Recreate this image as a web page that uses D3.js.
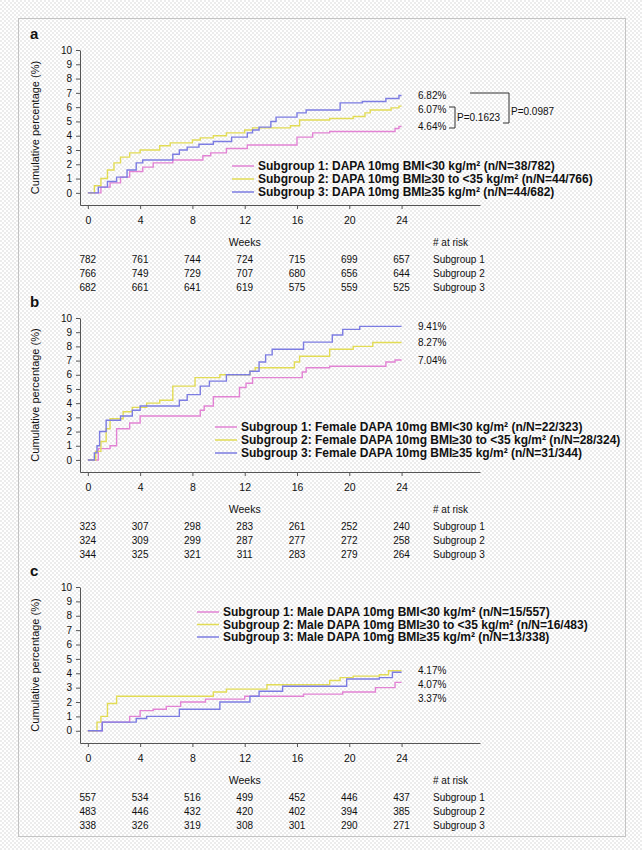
<!DOCTYPE html>
<html>
<head>
<meta charset="utf-8">
<script src="https://cdn.jsdelivr.net/npm/d3@7"></script>
<style>
  body { margin: 0; background: #fff; }
  svg { display: block; }
  text { font-family: "Liberation Sans", Arial, sans-serif; fill: #111; }
</style>
</head>
<body>
<svg id="chart" width="642" height="850"></svg>
<script>
// shared ticks / names
const weekTicks = [0, 4, 8, 12, 16, 20, 24]
const pctTicks = [0, 1, 2, 3, 4, 5, 6, 7, 8, 9, 10]
const groupNames = ["Subgroup 1", "Subgroup 2", "Subgroup 3"]
const groupColors = ["#e283d4", "#e2dc55", "#7c7ce2"]

// panel a: all patients, [week, cumulative %]
const aSub1 = [[0,0],[1.0,0.4],[1.7,0.7],[2.5,1.1],[3.2,1.5],[4.2,1.8],[5,2.1],[6.5,2.3],[8.8,2.6],[9.4,2.8],[10.6,3.1],[12.2,3.35],[16,3.9],[17.2,4.2],[18.5,4.3],[23.5,4.5],[23.8,4.64],[24,4.64]]
const aSub2 = [[0,0],[0.5,0.5],[1.0,1.0],[1.5,1.6],[2.0,2.1],[2.5,2.5],[3.2,2.8],[4.0,3.0],[5.5,3.3],[6.3,3.5],[8.0,3.7],[8.6,3.85],[9.6,4.0],[10.6,4.2],[12.0,4.4],[12.6,4.55],[15.5,4.7],[16.2,5.1],[18.5,5.2],[20.3,5.35],[21.2,5.6],[21.6,5.8],[23.2,5.95],[23.8,6.07],[24,6.07]]
const aSub3 = [[0,0],[0.8,0.4],[1.5,0.8],[2.2,1.1],[3.0,1.6],[3.7,2.1],[4.2,2.3],[6.5,2.7],[7.0,3.0],[7.6,3.2],[8.5,3.4],[9.6,3.6],[11,3.9],[12.2,4.2],[12.6,4.4],[13.1,4.6],[14.0,5.0],[14.4,5.3],[16,5.6],[16.7,5.8],[19.3,6.3],[21,6.4],[22.8,6.6],[23.8,6.82],[24,6.82]]
const aEnd = [4.64, 6.07, 6.82]
const aRisk = [[782, 761, 744, 724, 715, 699, 657], [766, 749, 729, 707, 680, 656, 644], [682, 661, 641, 619, 575, 559, 525]]
const aLegend = [
  "Subgroup 1: DAPA 10mg BMI<30 kg/m\u00b2 (n/N=38/782)",
  "Subgroup 2: DAPA 10mg BMI\u226530 to <35 kg/m\u00b2 (n/N=44/766)",
  "Subgroup 3: DAPA 10mg BMI\u226535 kg/m\u00b2 (n/N=44/682)"
]
const aPvalues = ["P=0.1623", "P=0.0987"]

// panel b: female
const bSub1 = [[0,0],[0.8,0.8],[1.7,1.0],[2.2,2.2],[3.2,2.6],[4,3.1],[8.6,3.5],[8.9,3.8],[9.6,4.45],[11.6,5.1],[12.1,5.4],[12.6,5.8],[16.4,6.2],[16.7,6.5],[18.5,6.6],[22.8,6.9],[23.5,7.04],[24,7.04]]
const bSub2 = [[0,0],[0.6,0.6],[1.0,1.3],[1.4,2.2],[1.7,2.9],[2.7,3.4],[3.4,3.7],[4.5,4.0],[5.5,4.2],[6.5,5.2],[8.2,5.8],[10.1,6.0],[12.4,6.25],[12.8,6.5],[15.8,6.9],[16.2,7.3],[18.5,7.8],[20.3,8.0],[21.8,8.27],[24,8.27]]
const bSub3 = [[0,0],[0.5,0.5],[0.7,1.0],[0.9,2.0],[1.4,2.8],[2.5,3.1],[3.4,3.5],[4,3.8],[7,4.2],[7.6,4.6],[8.6,5.2],[9.3,5.55],[10.6,6.0],[12.4,6.25],[13.1,6.9],[13.6,7.4],[14.1,7.8],[16.5,8.3],[18.7,8.8],[19.5,9.2],[20.8,9.41],[24,9.41]]
const bEnd = [7.04, 8.27, 9.41]
const bRisk = [[323, 307, 298, 283, 261, 252, 240], [324, 309, 299, 287, 277, 272, 258], [344, 325, 321, 311, 283, 279, 264]]
const bLegend = [
  "Subgroup 1: Female DAPA 10mg BMI<30 kg/m\u00b2 (n/N=22/323)",
  "Subgroup 2: Female DAPA 10mg BMI\u226530 to <35 kg/m\u00b2 (n/N=28/324)",
  "Subgroup 3: Female DAPA 10mg BMI\u226535 kg/m\u00b2 (n/N=31/344)"
]

// panel c: male
const cSub1 = [[0,0],[1.1,0.6],[3.2,1.0],[4,1.4],[5,1.5],[6,1.7],[7.1,2.0],[9,2.2],[12,2.4],[16.5,2.55],[19.5,2.7],[22,3.0],[23.5,3.37],[24,3.37]]
const cSub2 = [[0,0],[0.7,0.6],[1.0,1.0],[1.5,1.9],[2.2,2.4],[9.6,2.7],[10.6,2.9],[13.7,3.2],[18.5,3.5],[19.3,3.7],[20.3,3.8],[22.3,3.9],[23,4.17],[24,4.17]]
const cSub3 = [[0,0],[1.1,0.6],[3.7,0.85],[4.5,1.0],[7,1.5],[10.1,2.0],[12.4,2.4],[13.1,2.75],[14.9,3.1],[19.8,3.6],[22.3,3.7],[23.3,4.07],[24,4.07]]
const cEnd = [3.37, 4.17, 4.07]
const cRisk = [[557, 534, 516, 499, 452, 446, 437], [483, 446, 432, 420, 402, 394, 385], [338, 326, 319, 308, 301, 290, 271]]
const cLegend = [
  "Subgroup 1: Male DAPA 10mg BMI<30 kg/m\u00b2 (n/N=15/557)",
  "Subgroup 2: Male DAPA 10mg BMI\u226530 to <35 kg/m\u00b2 (n/N=16/483)",
  "Subgroup 3: Male DAPA 10mg BMI\u226535 kg/m\u00b2 (n/N=13/338)"
]

const svg = d3.select("#chart")

// speckled background like the scanned figure
const defs = svg.append("defs")
const pat = defs.append("pattern")
  .attr("id", "speckle")
  .attr("width", 4).attr("height", 4)
  .attr("patternUnits", "userSpaceOnUse")
pat.append("rect").attr("width", 4).attr("height", 4).attr("fill", "#ffffff")
pat.append("rect").attr("width", 2).attr("height", 2).attr("fill", "#ececec")
pat.append("rect").attr("x", 2).attr("y", 2).attr("width", 2).attr("height", 2).attr("fill", "#ececec")

svg.append("rect").attr("width", 642).attr("height", 850).attr("fill", "url(#speckle)")
svg.append("rect")
  .attr("x", 18.5).attr("y", 18.5).attr("width", 607).attr("height", 818)
  .attr("fill", "none").attr("stroke", "#c4c4c4")

const x = d3.scaleLinear().domain([-0.6, 30]).range([80, 480])

const panels = [
  { letter: "a", top: 50, axisY: 205, series: [aSub1, aSub2, aSub3], ends: aEnd, risk: aRisk,
    legend: aLegend, legendX: 232, legendY: 166, legendGap: 13 },
  { letter: "b", top: 318, axisY: 472, series: [bSub1, bSub2, bSub3], ends: bEnd, risk: bRisk,
    legend: bLegend, legendX: 215, legendY: 427, legendGap: 13 },
  { letter: "c", top: 587, axisY: 743, series: [cSub1, cSub2, cSub3], ends: cEnd, risk: cRisk,
    legend: cLegend, legendX: 197, legendY: 612, legendGap: 12.5 }
]

panels.forEach(p => drawPanel(p))

function drawPanel(p) {
  const g = svg.append("g")
  const y = d3.scaleLinear().domain([-0.85, 10]).range([p.axisY, p.top])

  g.append("text")
    .attr("x", 30).attr("y", p.top - 11)
    .attr("font-size", 15).attr("font-weight", "bold")
    .text(p.letter)

  // axes
  const yAxis = g.append("g")
    .attr("transform", `translate(${x.range()[0]},0)`)
    .call(d3.axisLeft(y).tickValues(pctTicks).tickSize(4).tickSizeOuter(0).tickPadding(4))
  yAxis.selectAll("text").attr("font-size", 10)

  const xAxis = g.append("g")
    .attr("transform", `translate(0,${p.axisY})`)
    .call(d3.axisBottom(x).tickValues(weekTicks).tickSize(4).tickSizeOuter(0).tickPadding(8))
  xAxis.selectAll("text").attr("font-size", 10.5)

  g.selectAll(".domain, .tick line").attr("stroke", "#555")

  g.append("text")
    .attr("transform", `translate(39,${(p.top + p.axisY) / 2}) rotate(-90)`)
    .attr("text-anchor", "middle")
    .attr("font-size", 11)
    .text("Cumulative percentage (%)")

  // curves
  const line = d3.line()
    .x(d => x(d[0]))
    .y(d => y(d[1]))
    .curve(d3.curveStepAfter)

  p.series.forEach((s, i) => {
    g.append("path")
      .datum(s)
      .attr("fill", "none")
      .attr("stroke", groupColors[i])
      .attr("stroke-width", 1.4)
      .attr("d", line)
  })

  // end-of-curve percentages, spread so they do not overlap
  const order = d3.range(p.ends.length).sort((a, b) => p.ends[b] - p.ends[a])
  let last = -Infinity
  order.forEach(i => {
    const ly = Math.max(y(p.ends[i]), last + 14)
    last = ly
    g.append("text")
      .attr("x", 418).attr("y", ly)
      .attr("dy", "0.35em")
      .attr("font-size", 10)
      .text(p.ends[i].toFixed(2) + "%")
  })

  // legend
  p.legend.forEach((t, i) => {
    const ly = p.legendY + i * p.legendGap
    g.append("line")
      .attr("x1", p.legendX).attr("x2", p.legendX + 22)
      .attr("y1", ly).attr("y2", ly)
      .attr("stroke", groupColors[i]).attr("stroke-width", 1.5)
    g.append("text")
      .attr("x", p.legendX + 26).attr("y", ly)
      .attr("dy", "0.35em")
      .attr("font-size", 12).attr("font-weight", "bold")
      .text(t)
  })

  // weeks title and numbers at risk
  g.append("text")
    .attr("x", x(12)).attr("y", p.axisY + 37)
    .attr("text-anchor", "middle").attr("dy", "0.35em")
    .attr("font-size", 10.5)
    .text("Weeks")

  g.append("text")
    .attr("x", 433).attr("y", p.axisY + 37)
    .attr("dy", "0.35em").attr("font-size", 10)
    .text("# at risk")

  p.risk.forEach((row, r) => {
    const ry = p.axisY + 54 + r * 14
    g.selectAll(null)
      .data(row)
      .join("text")
      .attr("x", (d, k) => x(weekTicks[k]))
      .attr("y", ry)
      .attr("text-anchor", "middle").attr("dy", "0.35em")
      .attr("font-size", 10)
      .text(d => d)
    g.append("text")
      .attr("x", 433).attr("y", ry)
      .attr("dy", "0.35em").attr("font-size", 10)
      .text(groupNames[r])
  })

  if (p.letter === "a") drawPvalues(g)
}

function drawPvalues(g) {
  g.append("path")
    .attr("d", "M449,107H455V128H449")
    .attr("fill", "none").attr("stroke", "#333")
  g.append("text")
    .attr("x", 457).attr("y", 117).attr("dy", "0.35em")
    .attr("font-size", 10)
    .text(aPvalues[0])
  g.append("path")
    .attr("d", "M470,93H509V123H503")
    .attr("fill", "none").attr("stroke", "#333")
  g.append("text")
    .attr("x", 511).attr("y", 111).attr("dy", "0.35em")
    .attr("font-size", 10)
    .text(aPvalues[1])
}
</script>
</body>
</html>
